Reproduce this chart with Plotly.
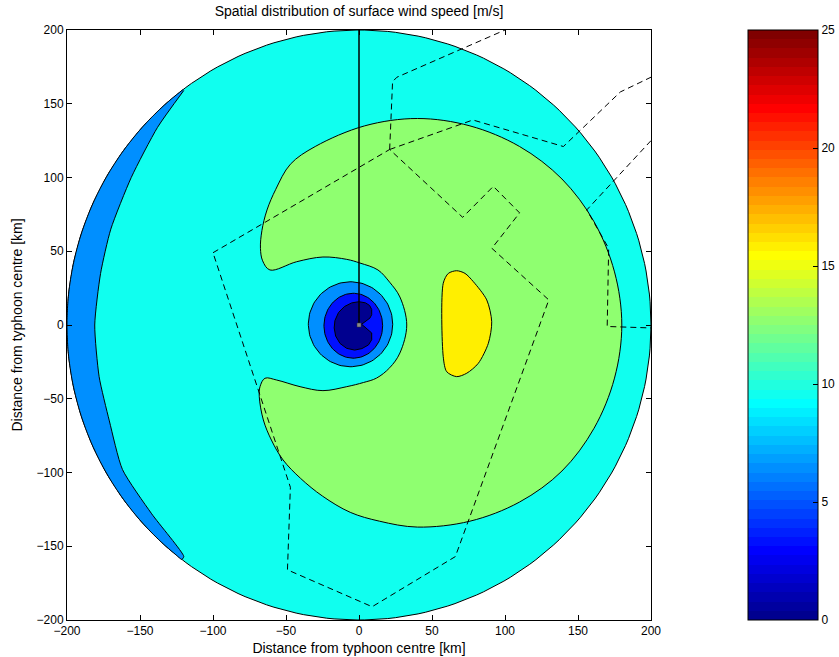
import numpy as np
import plotly.graph_objects as go

# ---------------- text ----------------
TITLE = "Spatial distribution of surface wind speed [m/s]"
XLABEL = "Distance from typhoon centre [km]"
YLABEL = "Distance from typhoon centre [km]"
AXIS_TICKS = [-200, -150, -100, -50, 0, 50, 100, 150, 200]
CBAR_TICKS = [0, 5, 10, 15, 20, 25]
CMIN, CMAX = 0.0, 25.0
N_COLORS = 64

# ---------------- data (km, m/s) ----------------
DOMAIN_RADIUS = 200.0
LEVEL_DOMAIN = 9.375
LEVEL_CRESCENT = 6.25
LEVEL_GREEN = 12.5
LEVEL_YELLOW = 15.625
LEVEL_RING = 6.25
LEVEL_CORE = 3.125
LEVEL_EYE = 0.0

CRESCENT_INNER_X = [-120, -138, -156, -170, -177, -181, -178, -171, -162, -142, -120]
CRESCENT_INNER_Y = [159, 134, 100, 65, 35, 0, -35, -65, -98, -128, -157]

GREEN_X = [3.8, 40, 76, 110, 139, 161, 175, 180, 175, 161, 139, 110, 76, 40, 14, -6, -25, -40,
           -52, -60, -65.5, -68.3, -67.8, -64.4, -56.4, -40.4, -24.7, -8.4, 3, 12, 21, 28, 32.7,
           28, 21, 13, 0.7, -8.4, -24.7, -42.7, -61, -66, -67.5, -66.5, -63, -57, -47, -30, 3.8]
GREEN_Y = [135, 140, 135, 121, 99, 70, 36, 0, -36, -70, -99, -120, -133, -137, -133, -127, -116,
           -104, -91.5, -78, -64.4, -48.6, -41.8, -36.1, -37.3, -41.8, -44.5, -41.8, -39, -36, -29,
           -19, 0, 19, 29, 37.3, 42, 44.5, 46.1, 42.9, 37.3, 43.5, 52, 64, 78, 92, 109, 121, 135]

YELLOW_X = [57.7, 61.2, 66.9, 72.6, 78.3, 87.5, 90.9, 88.6, 81.7, 73.8, 66.9, 60.1, 57.7, 57.7]
YELLOW_Y = [28.3, 35, 36.8, 35, 29.4, 17, 2.2, -12.4, -26, -32.7, -35, -31.7, -21.5, 28.3]

RING_CENTER = (-5.8, 0.5)
RING_RADII = (28.9, 28.8)
CORE_CENTER = (-3.9, -0.5)
CORE_RADII = (20.1, 22.0)

EYE_X = [1.8, 7.5, 8.7, 8.7, 7.3, 4.5, 0, -5, -10, -14, -16.5, -17, -16, -13, -8.5, -3, 2, 6.5,
         8.7, 8.7, 1.8]
EYE_Y = [0.5, 4.7, 7, 10.5, 13.2, 15, 15.8, 15, 12.5, 8.5, 3, -2, -7.5, -12.5, -15.8, -17, -16,
         -13.5, -10, -5.4, 0.5]

TRACK_X = [0, 0]
TRACK_Y = [0, 200]

COAST_A_X = [-100, 21, 71, 92, 110, 91, 130, 66, 9, -49, -47, -100]
COAST_A_Y = [49, 119, 73, 94, 76, 52, 17, -157, -191, -166, -110, 49]
COAST_B_X = [21, 23, 26, 100]
COAST_B_Y = [119, 165, 168, 200]
COAST_C_X = [21, 78, 140, 179, 200]
COAST_C_Y = [119, 139, 121, 158, 168]
COAST_D_X = [200, 156, 171, 170, 200]
COAST_D_Y = [125, 78, 52, -1, -2]


# ---------------- helpers ----------------
def jet(t):
    r = np.clip(1.5 - abs(4 * t - 3), 0, 1)
    g = np.clip(1.5 - abs(4 * t - 2), 0, 1)
    b = np.clip(1.5 - abs(4 * t - 1), 0, 1)
    return "rgb(%d,%d,%d)" % (round(r * 255), round(g * 255), round(b * 255))


def level_color(v):
    i = int(np.floor((v - CMIN) / (CMAX - CMIN) * N_COLORS + 1e-9)) + 1
    i = min(max(i, 1), N_COLORS)
    return jet(i / N_COLORS)


colorscale = []
for i in range(N_COLORS):
    c = jet((i + 1) / N_COLORS)
    colorscale.append([i / N_COLORS, c])
    colorscale.append([(i + 1) / N_COLORS, c])


def ellipse(center, radii, n=120):
    a = np.linspace(0, 2 * np.pi, n)
    return center[0] + radii[0] * np.cos(a), center[1] + radii[1] * np.sin(a)


fig = go.Figure()


def add_fill(x, y, level, shape="linear", smoothing=0.5):
    fig.add_trace(go.Scatter(
        x=list(x), y=list(y), mode="lines", fill="toself",
        fillcolor=level_color(level),
        line=dict(color="black", width=1, shape=shape, smoothing=smoothing),
        hoverinfo="skip", showlegend=False))


# domain disc
dx, dy = ellipse((0, 0), (DOMAIN_RADIUS, DOMAIN_RADIUS), 240)
add_fill(dx, dy, LEVEL_DOMAIN)

# crescent on the west edge
a1 = np.arctan2(CRESCENT_INNER_Y[0], CRESCENT_INNER_X[0])
a2 = np.arctan2(CRESCENT_INNER_Y[-1], CRESCENT_INNER_X[-1]) + 2 * np.pi
arc = np.linspace(a1, a2, 80)
cx = list(DOMAIN_RADIUS * np.cos(arc)) + CRESCENT_INNER_X[::-1]
cy = list(DOMAIN_RADIUS * np.sin(arc)) + CRESCENT_INNER_Y[::-1]
add_fill(cx, cy, LEVEL_CRESCENT, "spline", 0.6)

add_fill(GREEN_X, GREEN_Y, LEVEL_GREEN, "spline", 1.0)
add_fill(YELLOW_X, YELLOW_Y, LEVEL_YELLOW, "spline", 0.8)

rx, ry = ellipse(RING_CENTER, RING_RADII)
add_fill(rx, ry, LEVEL_RING)
kx, ky = ellipse(CORE_CENTER, CORE_RADII)
add_fill(kx, ky, LEVEL_CORE)
add_fill(EYE_X, EYE_Y, LEVEL_EYE)

for xs, ys in [(COAST_A_X, COAST_A_Y), (COAST_B_X, COAST_B_Y),
               (COAST_C_X, COAST_C_Y), (COAST_D_X, COAST_D_Y)]:
    fig.add_trace(go.Scatter(x=xs, y=ys, mode="lines",
                             line=dict(color="black", width=1, dash="6px,4px"),
                             hoverinfo="skip", showlegend=False))

fig.add_trace(go.Scatter(x=TRACK_X, y=TRACK_Y, mode="lines",
                         line=dict(color="black", width=1.5),
                         hoverinfo="skip", showlegend=False))
fig.add_trace(go.Scatter(x=[TRACK_X[0]], y=[TRACK_Y[0]], mode="markers",
                         marker=dict(symbol="square", size=4, color="#8a8a8a",
                                     line=dict(color="#333333", width=0.5)),
                         hoverinfo="skip", showlegend=False))

# colour bar carrier
fig.add_trace(go.Scatter(
    x=[0], y=[0], mode="markers", hoverinfo="skip", showlegend=False,
    marker=dict(size=1, opacity=0, color=[CMIN], cmin=CMIN, cmax=CMAX,
                colorscale=colorscale, showscale=True,
                colorbar=dict(x=(748 - 67) / 584, xanchor="left", xref="paper",
                              y=0.5, yanchor="middle", len=1, lenmode="fraction",
                              thickness=70, thicknessmode="pixels",
                              xpad=0, ypad=0, outlinewidth=1, outlinecolor="black",
                              ticks="inside", ticklen=5, tickcolor="black",
                              tickvals=CBAR_TICKS,
                              tickfont=dict(size=12, color="black")))))

font = dict(family="Liberation Sans, Arial, sans-serif", size=12, color="black")
axis_common = dict(range=[-200, 200], tickvals=AXIS_TICKS, ticks="inside", ticklen=5,
                   tickcolor="black", showline=True, linecolor="black", linewidth=1,
                   mirror="ticks", showgrid=False, zeroline=False,
                   tickfont=dict(size=12, color="black"))

fig.update_layout(
    width=839, height=657,
    margin=dict(l=67, r=188, t=30, b=37, autoexpand=False),
    paper_bgcolor="white", plot_bgcolor="white",
    font=font,
    title=dict(text=TITLE, x=0.5, xref="paper", xanchor="center",
               y=1 - 11 / 657, yref="container", yanchor="middle",
               font=dict(size=14)),
    xaxis=dict(title=dict(text=XLABEL, standoff=5), **axis_common),
    yaxis=dict(title=dict(text=YLABEL, standoff=10), **axis_common),
)

fig.write_html("out.html")
